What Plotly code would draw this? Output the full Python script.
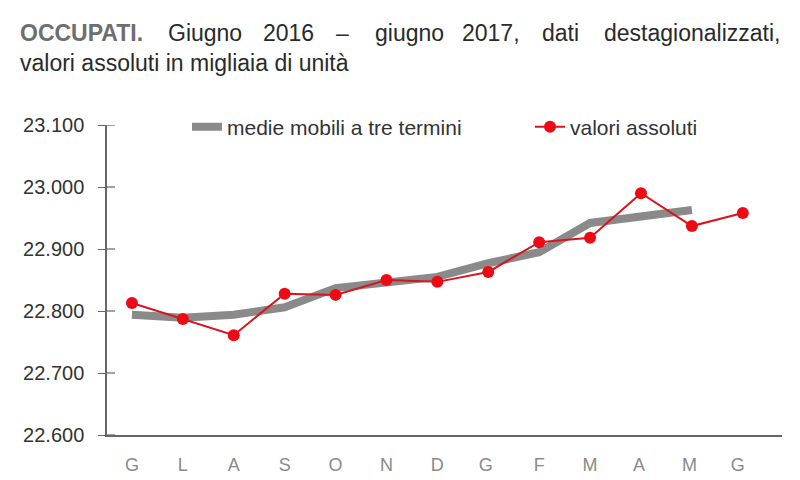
import plotly.graph_objects as go

months = ["G", "L", "A", "S", "O", "N", "D", "G ", "F", "M", "A ", "M ", "G  "]
valori_assoluti = [22813, 22787, 22761, 22828, 22826, 22850, 22847, 22863, 22911, 22918, 22990, 22937, 22958]
medie_mobili = [22794, 22789, 22794, 22806, 22837, 22845, 22855, 22877, 22895, 22942, 22952, 22963]
y_ticks = [22600, 22700, 22800, 22900, 23000, 23100]

title_lead = "OCCUPATI."
title_words = ["Giugno", "2016", "–", "giugno", "2017,", "dati", "destagionalizzati,"]
title_line2 = "valori assoluti in migliaia di unità"

W, H = 800, 480
ml, mr, mt, mb = 107, 18, 125, 45
pw, ph = W - ml - mr, H - mt - mb

def px_x(p):
    return (p - ml) / pw

def px_y(p):
    return 1 - (p - mt) / ph

fig = go.Figure()
fig.add_trace(go.Scatter(
    x=months[:len(medie_mobili)], y=medie_mobili, name="medie mobili a tre termini",
    mode="lines", line=dict(color="#8a8a8a", width=8), legend="legend",
))
fig.add_trace(go.Scatter(
    x=months, y=valori_assoluti, name="valori assoluti",
    mode="lines+markers", line=dict(color="#d9141c", width=2),
    marker=dict(color="#ee0a14", size=12), legend="legend2",
))

leg_font = dict(family="Liberation Sans, Arial", size=21, color="#333")
fig.update_layout(
    width=W, height=H,
    margin=dict(l=ml, r=mr, t=mt, b=mb),
    paper_bgcolor="white", plot_bgcolor="white",
    separators=",.",
    showlegend=True,
    legend=dict(orientation="h", x=px_x(187), y=px_y(127), xanchor="left", yanchor="middle",
                font=leg_font, bgcolor="rgba(0,0,0,0)"),
    legend2=dict(orientation="h", x=px_x(530), y=px_y(127), xanchor="left", yanchor="middle",
                 font=leg_font, bgcolor="rgba(0,0,0,0)"),
    xaxis=dict(type="category", range=[-0.49, 12.77], showgrid=False, zeroline=False,
               showline=True, linecolor="#666", linewidth=1.5, ticks="", automargin=False,
               tickfont=dict(family="Liberation Sans, Arial", size=18, color="#8a8a8a"),
               ticklabelstandoff=13),
    yaxis=dict(range=[22600, 23100], tickvals=y_ticks, tickformat=",d", automargin=False,
               showgrid=False, zeroline=False, showline=True, linecolor="#666", linewidth=1.5,
               ticks="outside", ticklen=7, tickcolor="#666", tickwidth=1.2,
               tickfont=dict(family="Liberation Sans, Arial", size=20, color="#333"),
               ticklabelstandoff=10),
)

# inside half of the crossing tick marks on the y axis
shapes = []
for v in y_ticks:
    shapes.append(dict(type="line", xref="paper", yref="y", x0=0, x1=8 / pw, y0=v, y1=v,
                       line=dict(color="#666", width=1.2)))
fig.update_layout(shapes=shapes)

font_title = "Liberation Sans, Arial"
tsize = 23
# justified first line: measured word start positions (px)
word_x = [166, 261, 334, 373, 460, 540]
ann = [dict(text="<b>" + title_lead + "</b>", x=px_x(18), y=px_y(33), xref="paper", yref="paper",
            xanchor="left", yanchor="middle", showarrow=False,
            font=dict(family=font_title, size=tsize, color="#6e6e6e"))]
for w, p in zip(title_words[:-1], word_x):
    ann.append(dict(text=w, x=px_x(p), y=px_y(33), xref="paper", yref="paper",
                    xanchor="left", yanchor="middle", showarrow=False,
                    font=dict(family=font_title, size=tsize, color="#2a2a2a")))
ann.append(dict(text=title_words[-1], x=px_x(782), y=px_y(33), xref="paper", yref="paper",
                xanchor="right", yanchor="middle", showarrow=False,
                font=dict(family=font_title, size=tsize, color="#2a2a2a")))
ann.append(dict(text=title_line2, x=px_x(18), y=px_y(63),
                xref="paper", yref="paper", xanchor="left", yanchor="middle", showarrow=False,
                font=dict(family=font_title, size=tsize, color="#2a2a2a")))
fig.update_layout(annotations=ann)

fig.write_html("out.html")
